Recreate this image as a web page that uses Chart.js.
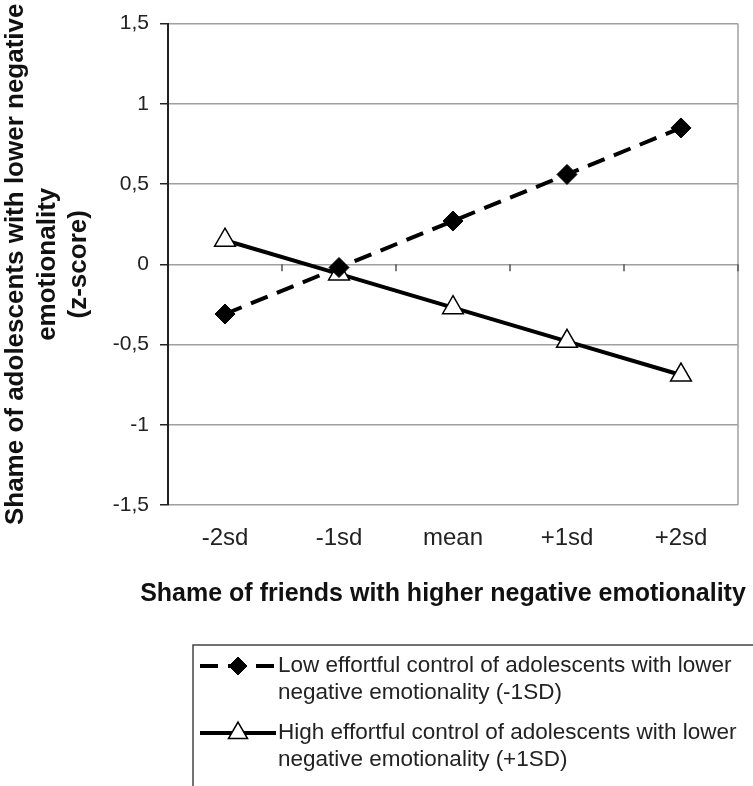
<!DOCTYPE html>
<html><head><meta charset="utf-8">
<script src="https://cdn.jsdelivr.net/npm/chart.js@4.4.1/dist/chart.umd.min.js"></script>
<style>html,body{margin:0;padding:0;background:#fff;} canvas{display:block;}</style>
</head><body>
<canvas id="c" width="753" height="786"></canvas>
<script>
const categories = ['-2sd', '-1sd', 'mean', '+1sd', '+2sd'];
const lowECValues = [-0.31, -0.02, 0.27, 0.56, 0.85];
const highECValues = [0.15, -0.06, -0.27, -0.48, -0.69];
const lowECLabel = ['Low effortful control of adolescents with lower', 'negative emotionality (-1SD)'];
const highECLabel = ['High effortful control of adolescents with lower', 'negative emotionality (+1SD)'];
const yTitleLines = ['Shame of adolescents with lower negative', 'emotionality', '(z-score)'];
const xTitleText = 'Shame of friends with higher negative emotionality';
const yMin = -1.5, yMax = 1.5, yStep = 0.5;

const FONT = '"Liberation Sans", Arial, sans-serif';
const GRID = '#a0a0a0';
const DARK = '#222222';

const frame = {
  id: 'frame',
  beforeDatasetsDraw(chart) {
    const {ctx, chartArea: a, scales: {x, y}} = chart;
    ctx.save();
    ctx.strokeStyle = GRID; ctx.lineWidth = 1.5;
    ctx.beginPath(); ctx.moveTo(a.right, a.top); ctx.lineTo(a.right, a.bottom); ctx.stroke();
    const y0 = y.getPixelForValue(0);
    ctx.strokeStyle = '#555'; ctx.lineWidth = 1.5;
    for (let i = 0; i < categories.length; i++) {
      const px = x.getPixelForValue(i + 0.5);
      ctx.beginPath(); ctx.moveTo(px, y0); ctx.lineTo(px, y0 + 7); ctx.stroke();
    }
    ctx.restore();
  }
};

const legendBox = {
  id: 'legendBox',
  afterDraw(chart) {
    const {ctx} = chart;
    ctx.save();
    // x axis title (drawn without width compression)
    ctx.font = 'bold 25px ' + FONT;
    ctx.fillStyle = '#111';
    ctx.textAlign = 'center';
    ctx.textBaseline = 'middle';
    ctx.fillText(xTitleText, 443, 594);
    ctx.textAlign = 'left';
    // legend
    ctx.strokeStyle = '#444'; ctx.lineWidth = 1.5;
    ctx.strokeRect(193, 645, 700, 300);
    const rows = [666, 733];
    chart.data.datasets.forEach((ds, i) => {
      const yy = rows[i];
      ctx.save();
      ctx.strokeStyle = ds.borderColor; ctx.lineWidth = ds.borderWidth;
      ctx.setLineDash(ds.borderDash || []);
      ctx.beginPath(); ctx.moveTo(200, yy); ctx.lineTo(276, yy); ctx.stroke();
      ctx.setLineDash([]);
      ctx.fillStyle = ds.pointBackgroundColor; ctx.strokeStyle = ds.pointBorderColor;
      ctx.lineWidth = ds.pointBorderWidth;
      Chart.helpers.drawPoint(ctx, {pointStyle: ds.pointStyle, radius: ds.legendPointRadius, borderWidth: ds.pointBorderWidth, rotation: 0}, 238, yy);
      ctx.restore();
      ctx.font = '22.5px ' + FONT;
      ctx.fillStyle = '#222';
      ctx.textBaseline = 'middle';
      ds.label.forEach((t, k) => ctx.fillText(t, 278, yy + k * 27));
    });
    ctx.restore();
  }
};

new Chart(document.getElementById('c'), {
  type: 'line',
  data: {
    labels: categories,
    datasets: [
      {
        label: lowECLabel, data: lowECValues,
        borderColor: '#000', borderWidth: 4, borderDash: [18, 10],
        pointStyle: 'rectRot', pointRadius: 10, legendPointRadius: 9,
        pointBackgroundColor: '#000', pointBorderColor: '#000', pointBorderWidth: 1,
        tension: 0
      },
      {
        label: highECLabel, data: highECValues,
        borderColor: '#000', borderWidth: 4,
        pointStyle: 'triangle', pointRadius: 12, legendPointRadius: 11,
        pointBackgroundColor: '#fff', pointBorderColor: '#000', pointBorderWidth: 1.5,
        tension: 0
      }
    ]
  },
  options: {
    responsive: false, animation: false, devicePixelRatio: 1,
    layout: {padding: {left: 0, right: 15, top: 20, bottom: 171}},
    plugins: {legend: {display: false}, tooltip: {enabled: false}},
    scales: {
      x: {
        type: 'category', offset: true,
        grid: {display: false, drawTicks: false},
        border: {display: false},
        ticks: {color: '#222', font: {family: FONT, size: 24}, padding: 19, maxRotation: 0, autoSkip: false},
        title: {display: false},
        afterFit(s) { s.height = 110; }
      },
      y: {
        min: yMin, max: yMax,
        grid: {color: GRID, lineWidth: 1.5, tickColor: DARK, tickLength: 8, drawTicks: true},
        border: {display: true, color: DARK, width: 2},
        ticks: {stepSize: yStep, color: '#222', font: {family: FONT, size: 21}, padding: 11,
          callback: v => String(Math.round(v * 10) / 10).replace('.', ',')},
        title: {display: true, text: yTitleLines, color: '#111', font: {family: FONT, size: 26, weight: 'bold', lineHeight: 1.22}, padding: {top: 0, bottom: 0}},
        afterFit(s) { s.width = 168; }
      }
    }
  },
  plugins: [frame, legendBox]
});
</script>
</body></html>
